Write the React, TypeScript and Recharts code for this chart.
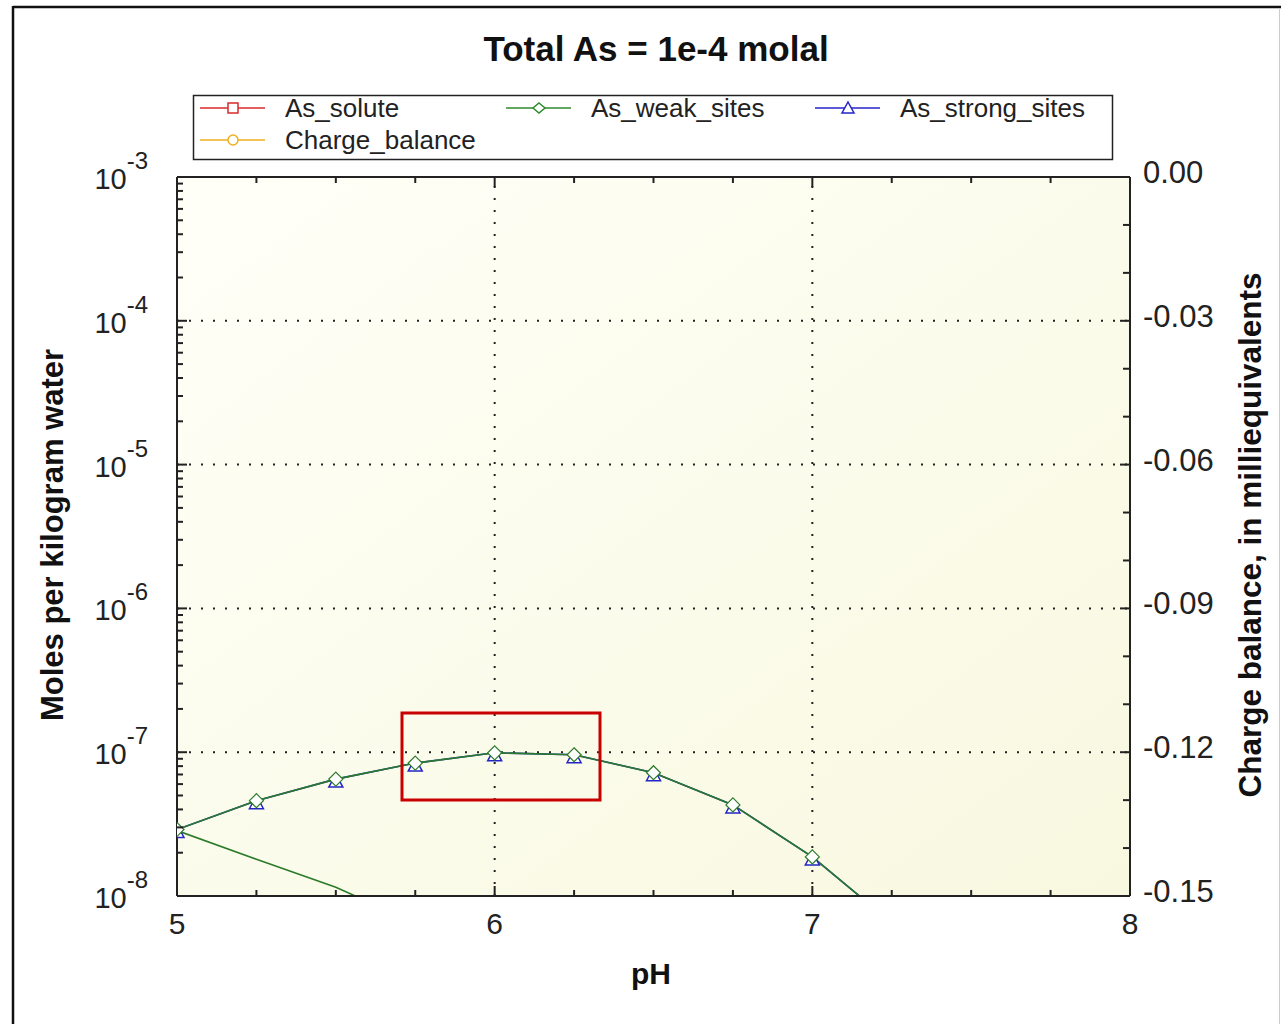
import { LineChart, Line, XAxis, YAxis, ReferenceLine } from "recharts";

// pH steps of the run (moles per kg water)
const PH = [5, 5.25, 5.5, 5.75, 6, 6.25, 6.5, 6.75, 7, 7.25];
const AS_WEAK_SITES = [2.9e-8, 4.6e-8, 6.5e-8, 8.4e-8, 9.9e-8, 9.6e-8, 7.2e-8, 4.3e-8, 1.87e-8, 6.5e-9];
const AS_STRONG_SITES = [2.9e-8, 4.6e-8, 6.5e-8, 8.4e-8, 9.9e-8, 9.6e-8, 7.2e-8, 4.3e-8, 1.87e-8, 6.5e-9];
const LOWER_BRANCH = [2.85e-8, 1.8e-8, 1.15e-8, 6.5e-9, null, null, null, null, null, null];
const CHARGE_BALANCE = [null, null, null, null, null, null, null, null, null, null];

const X_TICKS = [5, 5.25, 5.5, 5.75, 6, 6.25, 6.5, 6.75, 7, 7.25, 7.5, 7.75, 8];
const X_GRID = [6, 7];
const DECADES = [1e-8, 1e-7, 1e-6, 1e-5, 1e-4, 1e-3];
const Y_GRID = [1e-7, 1e-6, 1e-5, 1e-4];
const RIGHT_TICKS = [0, -0.01, -0.02, -0.03, -0.04, -0.05, -0.06, -0.07, -0.08, -0.09, -0.1, -0.11, -0.12, -0.13, -0.14, -0.15];

const LEGEND = [
  { name: "As_solute", color: "#d82a2a", shape: "square", x: 200, y: 108 },
  { name: "As_weak_sites", color: "#2f8a2f", shape: "diamond", x: 506, y: 108 },
  { name: "As_strong_sites", color: "#2424c8", shape: "triangle", x: 815, y: 108 },
  { name: "Charge_balance", color: "#f0b020", shape: "circle", x: 200, y: 140 },
];

const W = 1281;
const H = 1024;
const PLOT = { left: 177, right: 1130, top: 177, bottom: 896 };
const FONT = "'Liberation Sans', Arial, sans-serif";
const GREEN = "#2a7a2a";
const BLUE = "#2424c8";

const data = PH.map((ph, i) => ({
  ph,
  weak: AS_WEAK_SITES[i],
  strong: AS_STRONG_SITES[i],
  lower: LOWER_BRANCH[i],
  charge: CHARGE_BALANCE[i],
}));

const minorYTicks: number[] = [];
for (let d = 0; d < DECADES.length - 1; d++) {
  for (let k = 1; k < 10; k++) minorYTicks.push(DECADES[d] * k);
}
minorYTicks.push(1e-3);

const isDecade = (v: number) => Math.abs(Math.log10(v) - Math.round(Math.log10(v))) < 1e-6;

function BottomTick({ x, payload }: any) {
  const v = payload.value;
  const major = Math.abs(v - Math.round(v)) < 1e-9;
  return (
    <g>
      <line x1={x} x2={x} y1={PLOT.bottom} y2={PLOT.bottom - (major ? 10 : 6)} stroke="#222" strokeWidth={2} />
      {major && (
        <text x={x} y={934} textAnchor="middle" fontSize={30} fontFamily={FONT} fill="#222">
          {v}
        </text>
      )}
    </g>
  );
}

function TopTick({ x, payload }: any) {
  const v = payload.value;
  const major = Math.abs(v - Math.round(v)) < 1e-9;
  return <line x1={x} x2={x} y1={PLOT.top} y2={PLOT.top + (major ? 10 : 6)} stroke="#222" strokeWidth={2} />;
}

function LeftTick({ y, payload }: any) {
  const v = payload.value;
  const major = isDecade(v);
  return (
    <g>
      <line x1={PLOT.left} x2={PLOT.left + (major ? 10 : 6)} y1={y} y2={y} stroke="#222" strokeWidth={2} />
      {major && (
        <text x={148} y={y + 12} textAnchor="end" fontSize={29} fontFamily={FONT} fill="#222">
          10
          <tspan dy={-20} fontSize={24}>{Math.round(Math.log10(v))}</tspan>
        </text>
      )}
    </g>
  );
}

function RightTick({ y, payload }: any) {
  const v = payload.value;
  const major = Math.abs(v / 0.03 - Math.round(v / 0.03)) < 1e-6;
  return (
    <g>
      <line x1={PLOT.right} x2={PLOT.right - (major ? 10 : 7)} y1={y} y2={y} stroke="#222" strokeWidth={2} />
      {major && (
        <text x={1143} y={y + 6} textAnchor="start" fontSize={31} fontFamily={FONT} fill="#222">
          {Math.abs(v) < 1e-9 ? "0.00" : v.toFixed(2)}
        </text>
      )}
    </g>
  );
}

function Diamond({ cx, cy, index, value }: any) {
  if (cx == null || cy == null || value == null || value < 1e-8) return <g key={`d${index}`} />;
  return (
    <polygon
      key={`d${index}`}
      points={`${cx},${cy - 7} ${cx + 7},${cy} ${cx},${cy + 7} ${cx - 7},${cy}`}
      fill="#fff"
      stroke={GREEN}
      strokeWidth={1.2}
    />
  );
}

function Triangle({ cx, cy, index, value }: any) {
  if (cx == null || cy == null || value == null || value < 1e-8) return <g key={`t${index}`} />;
  return (
    <polygon
      key={`t${index}`}
      points={`${cx},${cy - 5} ${cx + 7},${cy + 8} ${cx - 7},${cy + 8}`}
      fill="#fff"
      stroke={BLUE}
      strokeWidth={1.5}
    />
  );
}

function LegendMarker({ shape, color, cx, cy }: { shape: string; color: string; cx: number; cy: number }) {
  if (shape === "square") return <rect x={cx - 5} y={cy - 5} width={10} height={10} fill="#fff" stroke={color} strokeWidth={1.5} />;
  if (shape === "diamond")
    return <polygon points={`${cx},${cy - 5} ${cx + 6},${cy} ${cx},${cy + 5} ${cx - 6},${cy}`} fill="#fff" stroke={color} strokeWidth={1.5} />;
  if (shape === "triangle")
    return <polygon points={`${cx},${cy - 6} ${cx + 6},${cy + 5} ${cx - 6},${cy + 5}`} fill="#fff" stroke={color} strokeWidth={1.5} />;
  return <circle cx={cx} cy={cy} r={5} fill="#fff" stroke={color} strokeWidth={1.5} />;
}

export default function App() {
  return (
    <div style={{ position: "absolute", left: 0, top: 0, width: W, height: H, background: "#fff", overflow: "hidden" }}>
      {/* plot background */}
      <svg width={W} height={H} style={{ position: "absolute", left: 0, top: 0 }}>
        <defs>
          <linearGradient id="plotBg" x1="0" y1="0" x2="1" y2="1">
            <stop offset="0%" stopColor="#fffff8" />
            <stop offset="100%" stopColor="#f8f8e0" />
          </linearGradient>
        </defs>
        <rect x={PLOT.left} y={PLOT.top} width={PLOT.right - PLOT.left} height={PLOT.bottom - PLOT.top} fill="url(#plotBg)" />
      </svg>

      <div style={{ position: "absolute", left: 0, top: 0 }}>
        <LineChart width={W} height={H} data={data} margin={{ top: 167, right: 51, bottom: 68, left: 77 }}>
          <XAxis
            dataKey="ph"
            type="number"
            domain={[5, 8]}
            ticks={X_TICKS}
            interval={0}
            allowDataOverflow
            height={60}
            axisLine={{ stroke: "#222", strokeWidth: 2 }}
            tickLine={false}
            tick={<BottomTick />}
          />
          <XAxis
            xAxisId="top"
            orientation="top"
            dataKey="ph"
            type="number"
            domain={[5, 8]}
            ticks={X_TICKS}
            interval={0}
            allowDataOverflow
            height={10}
            axisLine={{ stroke: "#222", strokeWidth: 2 }}
            tickLine={false}
            tick={<TopTick />}
          />
          <YAxis
            scale="log"
            type="number"
            domain={[1e-8, 1e-3]}
            ticks={minorYTicks}
            interval={0}
            allowDataOverflow
            width={100}
            axisLine={{ stroke: "#222", strokeWidth: 2 }}
            tickLine={false}
            tick={<LeftTick />}
          />
          <YAxis
            yAxisId="right"
            orientation="right"
            type="number"
            domain={[-0.15, 0]}
            ticks={RIGHT_TICKS}
            interval={0}
            allowDataOverflow
            width={100}
            axisLine={{ stroke: "#222", strokeWidth: 2 }}
            tickLine={false}
            tick={<RightTick />}
          />

          {X_GRID.map((v) => (
            <ReferenceLine key={`gx${v}`} x={v} stroke="#222" strokeWidth={2} strokeDasharray="2 10" />
          ))}
          {Y_GRID.map((v) => (
            <ReferenceLine key={`gy${v}`} y={v} stroke="#222" strokeWidth={2} strokeDasharray="2 10" />
          ))}

          <Line
            dataKey="lower"
            stroke={GREEN}
            strokeWidth={1.6}
            dot={false}
            connectNulls={false}
            isAnimationActive={false}
          />
          <Line dataKey="strong" stroke={BLUE} strokeWidth={1.6} dot={<Triangle />} isAnimationActive={false} />
          <Line dataKey="weak" stroke={GREEN} strokeWidth={1.6} dot={<Diamond />} isAnimationActive={false} />
          <Line yAxisId="right" dataKey="charge" stroke="#f0b020" dot={false} isAnimationActive={false} />
        </LineChart>
      </div>

      {/* frame, title, legend, axis titles, highlight box */}
      <svg width={W} height={H} style={{ position: "absolute", left: 0, top: 0, pointerEvents: "none" }} fontFamily={FONT}>
        <line x1={13} x2={W} y1={7} y2={7} stroke="#111" strokeWidth={2.5} />
        <line x1={13} x2={13} y1={6} y2={H} stroke="#111" strokeWidth={2.5} />
        <line x1={1279.5} x2={1279.5} y1={8} y2={H} stroke="#ccc" strokeWidth={1} />

        <text x={656} y={61} textAnchor="middle" fontSize={35} fontWeight="bold" fill="#111">
          Total As = 1e-4 molal
        </text>

        <rect x={193.5} y={95.5} width={919} height={64} fill="#fff" stroke="#222" strokeWidth={1.5} />
        {LEGEND.map((it) => (
          <g key={it.name}>
            <line x1={it.x} x2={it.x + 65} y1={it.y} y2={it.y} stroke={it.color} strokeWidth={1.5} />
            <LegendMarker shape={it.shape} color={it.color} cx={it.x + 33} cy={it.y} />
            <text x={it.x + 85} y={it.y + 9} fontSize={26} fill="#222">
              {it.name}
            </text>
          </g>
        ))}

        <text x={651} y={984} textAnchor="middle" fontSize={30} fontWeight="bold" fill="#111">
          pH
        </text>
        <text x={63} y={535} transform="rotate(-90 63 535)" textAnchor="middle" fontSize={31} fontWeight="bold" fill="#111">
          Moles per kilogram water
        </text>
        <text x={1261} y={535} transform="rotate(-90 1261 535)" textAnchor="middle" fontSize={31.5} fontWeight="bold" fill="#111">
          Charge balance, in milliequivalents
        </text>

        <rect x={402} y={713} width={198} height={87} fill="none" stroke="#c80000" strokeWidth={3} />
      </svg>
    </div>
  );
}
